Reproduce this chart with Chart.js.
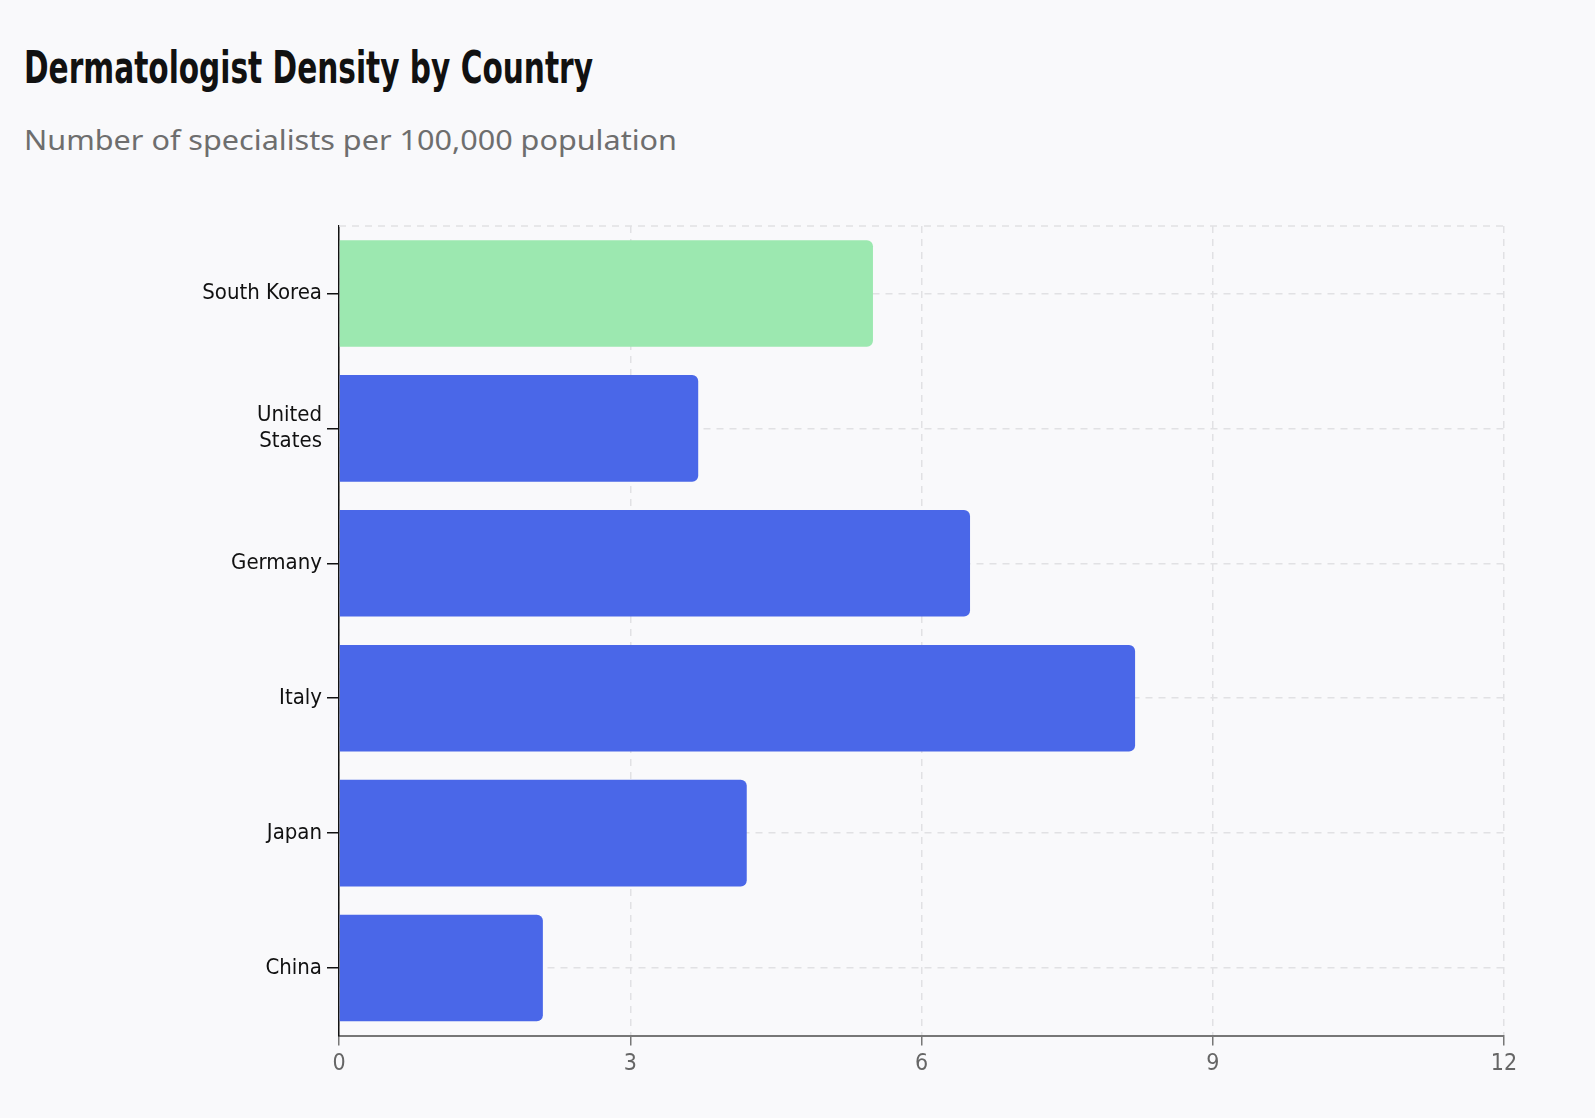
<!DOCTYPE html>
<html>
<head>
<meta charset="utf-8">
<script src="https://cdn.jsdelivr.net/npm/chart.js@4.4.1/dist/chart.umd.min.js"></script>
<style>
  html, body { margin: 0; padding: 0; background: #f9f9fb; }
  body { width: 1595px; height: 1118px; position: relative; overflow: hidden; }
  #title {
    position: absolute; left: 24px; top: 45px; margin: 0;
    font-family: "DejaVu Sans", sans-serif; font-stretch: condensed; font-weight: bold;
    font-size: 45px; line-height: 1; color: #111; white-space: nowrap;
    transform-origin: 0 0;
  }
  #subtitle {
    position: absolute; left: 24px; top: 125px; margin: 0;
    font-family: "Noto Sans", sans-serif; font-weight: normal;
    font-size: 28px; line-height: 1; color: #6e6e6e; white-space: nowrap;
    transform-origin: 0 0;
  }
  #chart { position: absolute; left: 0; top: 0; }
</style>
</head>
<body>
<h1 id="title">Dermatologist Density by Country</h1>
<p id="subtitle">Number of specialists per 100,000 population</p>
<canvas id="chart" width="1595" height="1118"></canvas>
<script>
// ---- data ----
const categories = [["South Korea"], ["United", "States"], ["Germany"], ["Italy"], ["Japan"], ["China"]];
const countryNames = ["South Korea", "United States", "Germany", "Italy", "Japan", "China"];
const densityValues = [5.5, 3.7, 6.5, 8.2, 4.2, 2.1];
const xTickValues = [0, 3, 6, 9, 12];
const highlightCountry = "South Korea";

// fit header text widths
function fitWidth(id, target) {
  const el = document.getElementById(id);
  const w = el.getBoundingClientRect().width;
  el.style.transform = 'scaleX(' + (target / w) + ')';
}
fitWidth('title', 569);
fitWidth('subtitle', 653);

const condensed = "'DejaVu Sans Condensed', 'Liberation Sans Narrow', 'DejaVu Sans', sans-serif";
const gridColor = '#e1e1e4';

const topDashPlugin = {
  id: 'topDash',
  beforeDatasetsDraw(chart) {
    const { ctx, chartArea } = chart;
    ctx.save();
    ctx.strokeStyle = gridColor;
    ctx.lineWidth = 1.5;
    ctx.setLineDash([7, 6]);
    ctx.beginPath();
    ctx.moveTo(chartArea.left, chartArea.top);
    ctx.lineTo(chartArea.right, chartArea.top);
    ctx.stroke();
    ctx.restore();
  }
};

new Chart(document.getElementById('chart'), {
  type: 'bar',
  data: {
    labels: categories,
    datasets: [{
      data: densityValues,
      backgroundColor: countryNames.map(n => n === highlightCountry ? '#9ce8b0' : '#4a67e8'),
      borderRadius: 6,
      borderSkipped: 'start',
      barPercentage: 0.79,
      categoryPercentage: 1.0
    }]
  },
  options: {
    indexAxis: 'y',
    responsive: false,
    animation: false,
    devicePixelRatio: 1,
    layout: { padding: { left: 0, top: 226, right: 91, bottom: 0 } },
    plugins: { legend: { display: false }, tooltip: { enabled: false } },
    scales: {
      x: {
        type: 'linear',
        min: 0, max: 12,
        afterBuildTicks: (scale) => { scale.ticks = xTickValues.map(v => ({ value: v })); },
        afterFit: (scale) => { scale.height = 82.5; },
        grid: {
          color: gridColor, lineWidth: 1.5,
          drawTicks: true, tickLength: 10, tickColor: '#777', tickWidth: 1.5
        },
        border: { display: true, color: '#777', width: 2, dash: [7, 6] },
        ticks: {
          color: '#666', padding: 5,
          font: { family: condensed, size: 23 }
        }
      },
      y: {
        afterFit: (scale) => { scale.width = 339; },
        grid: {
          offset: false,
          color: gridColor, lineWidth: 1.5,
          drawTicks: true, tickLength: 12, tickColor: '#111', tickWidth: 1.5
        },
        border: { display: true, color: '#111', width: 1.5, dash: [7, 6] },
        ticks: {
          color: '#111', padding: 5,
          font: { family: condensed, size: 22, lineHeight: 1.2 }
        }
      }
    }
  },
  plugins: [topDashPlugin]
});
</script>
</body>
</html>
